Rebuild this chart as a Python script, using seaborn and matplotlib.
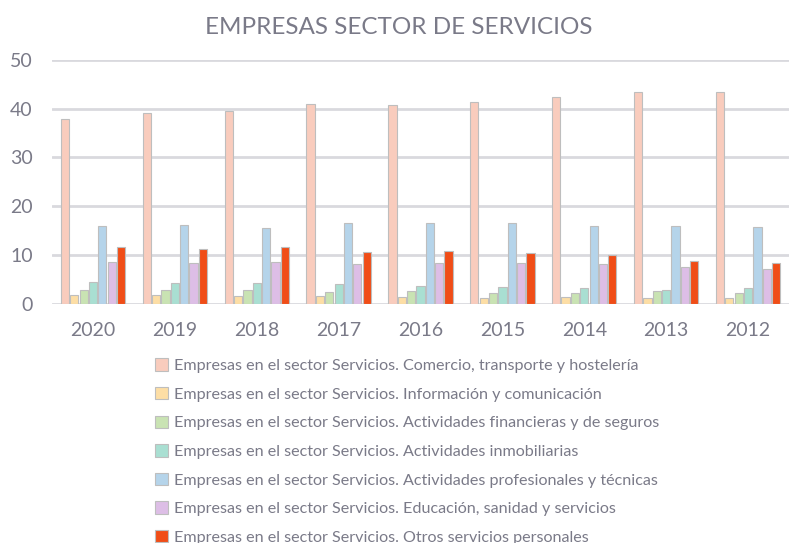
import pandas as pd
import seaborn as sns
import matplotlib.pyplot as plt

# values
years = ['2020', '2019', '2018', '2017', '2016', '2015', '2014', '2013', '2012']
categories = [
    'Empresas en el sector Servicios. Comercio, transporte y hostelería',
    'Empresas en el sector Servicios. Información y comunicación',
    'Empresas en el sector Servicios. Actividades financieras y de seguros',
    'Empresas en el sector Servicios. Actividades inmobiliarias',
    'Empresas en el sector Servicios. Actividades profesionales y técnicas',
    'Empresas en el sector Servicios. Educación, sanidad y servicios',
    'Empresas en el sector Servicios. Otros servicios personales',
]
comercio = [37.8, 39.1, 39.5, 40.9, 40.7, 41.3, 42.3, 43.4, 43.4]
informacion = [1.8, 1.8, 1.6, 1.6, 1.4, 1.2, 1.4, 1.2, 1.2]
financieras = [2.9, 2.9, 2.9, 2.5, 2.6, 2.2, 2.2, 2.6, 2.2]
inmobiliarias = [4.6, 4.4, 4.4, 4.1, 3.8, 3.4, 3.2, 2.8, 3.2]
profesionales = [15.9, 16.2, 15.5, 16.5, 16.5, 16.5, 15.9, 15.9, 15.7]
educacion = [8.7, 8.5, 8.7, 8.2, 8.5, 8.5, 8.2, 7.5, 7.1]
otros = [11.7, 11.2, 11.7, 10.7, 10.8, 10.5, 10.0, 8.9, 8.5]
colors = ['#F9CCBD', '#FDDEA5', '#C9E3B3', '#A9DFD2', '#B5D4EA', '#DDBEE6', '#F04D17']

series = [comercio, informacion, financieras, inmobiliarias, profesionales, educacion, otros]
rows = []
for cat, vals in zip(categories, series):
    for y, v in zip(years, vals):
        rows.append({'Año': y, 'Categoría': cat, 'Valor': v})
df = pd.DataFrame(rows)

sns.set_style('white')
plt.rcParams['font.family'] = ['Lato', 'DejaVu Sans']
text_grey = '#7A7A88'

fig = plt.figure(figsize=(7.89, 5.43), dpi=100)
ax = fig.add_axes([0.066, 0.44, 0.934, 0.45])

sns.barplot(data=df, x='Año', y='Valor', hue='Categoría', order=years,
            hue_order=categories, palette=colors, saturation=1, width=0.8, gap=0.12,
            edgecolor='#BEBEBE', linewidth=0.8, ax=ax, legend=True, zorder=3)

ax.set_ylim(0, 50)
ax.set_yticks([0, 10, 20, 30, 40, 50])
ax.set_xlim(-0.5, len(years) - 0.5)
ax.yaxis.grid(True, color='#D9D9DE', linewidth=2, zorder=0)
ax.set_axisbelow(True)
for s in ax.spines.values():
    s.set_visible(False)
ax.set_xlabel('')
ax.set_ylabel('')
ax.tick_params(axis='y', length=0, pad=14, labelsize=14, labelcolor=text_grey)
ax.tick_params(axis='x', length=0, pad=13, labelsize=14, labelcolor=text_grey)

fig.text(0.505, 0.95, 'EMPRESAS SECTOR DE SERVICIOS', ha='center', va='center',
         fontsize=17.5, color=text_grey)

handles, labels = ax.get_legend_handles_labels()
ax.get_legend().remove()
leg = fig.legend(handles, labels, loc='upper left', bbox_to_anchor=(0.196, 0.34),
                 frameon=False, fontsize=11.6, labelcolor=text_grey,
                 handlelength=0.8, handleheight=0.8, handletextpad=0.4,
                 labelspacing=0.86, borderaxespad=0, borderpad=0)

plt.savefig('out.png', dpi=100)
